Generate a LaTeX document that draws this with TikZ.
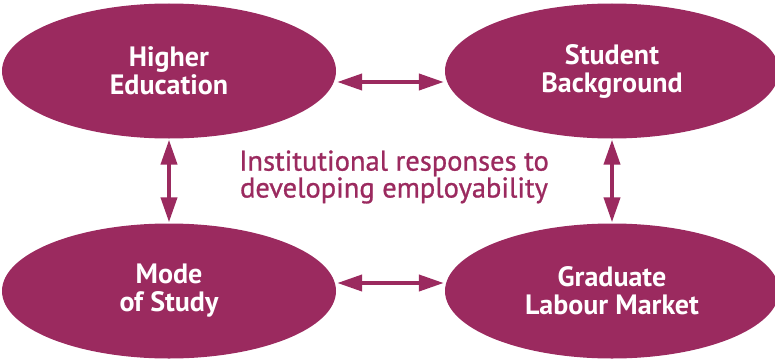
\documentclass[tikz,border=0pt]{standalone}
\usepackage{fontspec}
\setmainfont{PT Sans}
\newfontfamily\medfont[FakeBold=0.9]{PT Sans}
\usetikzlibrary{shapes.geometric,arrows.meta}
\definecolor{plum}{HTML}{9B2A5F}
\begin{document}
\begin{tikzpicture}[x=1pt,y=-1pt,
  oval/.style={ellipse,fill=plum,draw=none,minimum width=334pt,minimum height=135pt,inner sep=0pt,
    text=white,align=center,font=\fontsize{28}{28}\selectfont\bfseries},
  link/.style={draw=plum,line width=4pt,{Triangle[length=25pt,width=16pt]}-{Triangle[length=25pt,width=16pt]},shorten >=1pt,shorten <=1pt}]
\useasboundingbox (0,0) rectangle (775,361);
\node[oval] (he) at (169,71) {Higher\\Education};
\node[oval] (sb) at (612,71) {Student\\Background};
\node[oval] (ms) at (169,291) {Mode\\of Study};
\node[oval] (lm) at (612,291) {Graduate\\Labour Market};
\node[text=plum,align=center,font=\medfont\fontsize{28.5}{25}\selectfont] (ct) at (394,177) {Institutional responses to\\developing employability};
\draw[link] (he.east |- 0,82) -- (sb.west |- 0,82);
\draw[link] (ms.east |- 0,283) -- (lm.west |- 0,283);
\draw[link] (he.south) -- (ms.north);
\draw[link] (sb.south) -- (lm.north);
\end{tikzpicture}
\end{document}
